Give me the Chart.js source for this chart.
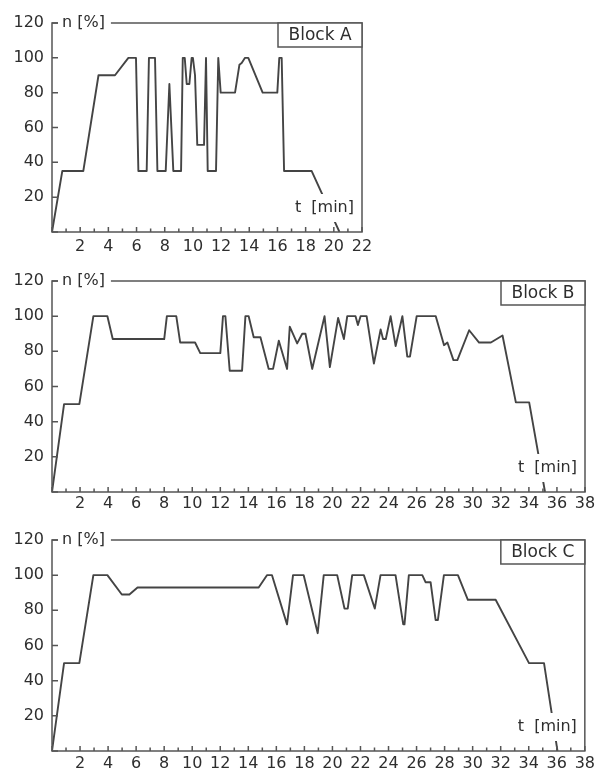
<!DOCTYPE html>
<html><head><meta charset="utf-8">
<script src="https://cdn.jsdelivr.net/npm/chart.js@4/dist/chart.umd.min.js"></script>
<style>
html,body{margin:0;padding:0;background:#fff;width:598px;height:773px;overflow:hidden}
canvas{position:absolute;left:0}
</style>
</head><body>
<canvas id="cA" width="598" height="258" style="top:0px"></canvas>
<canvas id="cB" width="598" height="256" style="top:258px"></canvas>
<canvas id="cC" width="598" height="256" style="top:517px"></canvas>
<script>
// ---- data (t in min, n in %) ----
const blockATime  = [0,0.73,2.22,3.3,4.47,5.42,5.96,6.13,6.72,6.88,7.31,7.48,8.07,8.33,8.61,9.16,9.28,9.42,9.56,9.75,9.91,10.0,10.15,10.31,10.79,10.93,11.05,11.64,11.8,11.97,12.99,13.3,13.46,13.7,13.93,14.95,15.99,16.13,16.3,16.47,18.43,20.4];
const blockAValue = [0,35,35,90,90,100,100,35,35,100,100,35,35,85,35,35,100,100,85,85,100,100,90,50,50,100,35,35,100,80,80,96,97,100,100,80,80,100,100,35,35,0];

const blockBTime  = [0,0.86,1.95,2.95,3.95,4.33,8.0,8.19,8.86,9.14,10.2,10.57,12.0,12.19,12.36,12.67,13.55,13.79,14.02,14.38,14.86,15.45,15.76,16.17,16.76,16.95,17.48,17.84,18.07,18.55,19.43,19.81,20.4,20.81,21.05,21.64,21.81,22.0,22.43,22.95,23.43,23.6,23.8,24.14,24.5,24.98,25.33,25.52,26.0,27.36,27.95,28.19,28.62,28.9,29.74,30.45,31.29,32.12,33.07,34.02,35.15];
const blockBValue = [0,50,50,100,100,87,87,100,100,85,85,79,79,100,100,69,69,100,100,88,88,70,70,86,70,94,84.5,90,90,70,100,71,99,87,100,100,95,100,100,73,92.5,87,87,100,83,100,77,77,100,100,83.5,85,75,75,92,85,85,89,51,51,0];

const blockCTime  = [0,0.86,1.95,2.95,3.95,4.98,5.52,6.1,14.74,15.33,15.69,16.76,17.19,17.95,18.95,19.38,20.34,20.86,21.09,21.41,22.24,23.02,23.43,24.5,25.05,25.14,25.45,26.41,26.64,27.0,27.36,27.52,27.95,28.95,29.66,31.64,34.02,35.09,36.05];
const blockCValue = [0,50,50,100,100,89,89,93,93,100,100,72,100,100,67,100,100,81,81,100,100,81,100,100,72,72,100,100,96,96,74.5,74.5,100,100,86,86,50,50,0];

const yTickLabels  = ['20','40','60','80','100','120'];
const xTickLabelsA = ['2','4','6','8','10','12','14','16','18','20','22'];
const xTickLabelsBC = ['2','4','6','8','10','12','14','16','18','20','22','24','26','28','30','32','34','36','38'];
const yTitle = 'n [%]';
const xTitle = 't  [min]';
const blockTitles = ['Block A','Block B','Block C'];

const FONT = '"DejaVu Sans", sans-serif';
const TEXT = '#2e2e2e';
const FRAME = '#555';

const framePlugin = {
  id: 'frame',
  afterDatasetsDraw(chart, args, opts) {
    const ctx = chart.ctx;
    const {left, right, top, bottom} = chart.chartArea;
    const xs = chart.scales.x, ys = chart.scales.y;
    ctx.save();
    ctx.strokeStyle = FRAME; ctx.lineWidth = 1.5;
    ctx.strokeRect(left, top, right - left, bottom - top);
    ctx.beginPath();
    xs.ticks.forEach(t => {
      const px = xs.getPixelForValue(t.value);
      const len = (t.value % 2 === 0) ? 5 : 3.5;
      ctx.moveTo(px, bottom); ctx.lineTo(px, bottom - len);
    });
    ys.ticks.forEach(t => {
      const py = ys.getPixelForValue(t.value);
      const len = (t.value % 20 === 0) ? 6 : 4;
      ctx.moveTo(left, py); ctx.lineTo(left + len, py);
    });
    ctx.stroke();
    // y title on the top border
    ctx.font = '16px ' + FONT;
    ctx.textBaseline = 'middle';
    let w = ctx.measureText(yTitle).width;
    ctx.fillStyle = '#fff';
    ctx.fillRect(left + 6, top - 10, w + 10, 20);
    ctx.fillStyle = TEXT; ctx.textAlign = 'left';
    ctx.fillText(yTitle, left + 10, top);
    // x title inside bottom right
    w = ctx.measureText(xTitle).width;
    ctx.fillStyle = '#fff';
    ctx.fillRect(right - 8 - w - 3, bottom - 24 - 14, w + 6, 28);
    ctx.fillStyle = TEXT; ctx.textAlign = 'right';
    ctx.fillText(xTitle, right - 8, bottom - 24);
    // block box
    ctx.font = '17px ' + FONT;
    const bw = 84, bh = 24;
    ctx.fillStyle = '#fff';
    ctx.fillRect(right - bw, top, bw, bh);
    ctx.strokeRect(right - bw, top, bw, bh);
    ctx.fillStyle = TEXT; ctx.textAlign = 'center';
    ctx.fillText(opts.title, right - bw / 2, top + bh / 2 + 1);
    ctx.restore();
  }
};

function makeChart(id, times, values, xMax, xLabels, title, padRight, xPad, xHeight) {
  const pts = times.map((t, i) => ({x: t, y: values[i]}));
  return new Chart(document.getElementById(id), {
    type: 'scatter',
    data: {datasets: [{data: pts, showLine: true, borderColor: '#444', borderWidth: 1.9,
      pointRadius: 0, fill: false, tension: 0, borderJoinStyle: 'round'}]},
    options: {
      responsive: false, animation: false, events: [],
      layout: {padding: {top: 23, right: padRight, left: 0, bottom: 0}},
      plugins: {legend: {display: false}, tooltip: {enabled: false}, frame: {title: title}},
      scales: {
        x: {type: 'linear', min: 0, max: xMax,
          grid: {display: false, drawTicks: false}, border: {display: false},
          ticks: {stepSize: 1, autoSkip: false, maxRotation: 0, minRotation: 0, padding: xPad,
            color: TEXT, font: {family: FONT, size: 16},
            callback: v => (v > 0 && v % 2 === 0) ? (xLabels[v / 2 - 1] || '') : ''},
          afterFit: s => { s.height = xHeight; }
        },
        y: {min: 0, max: 120,
          grid: {display: false, drawTicks: false}, border: {display: false},
          ticks: {stepSize: 10, padding: 8, color: TEXT, font: {family: FONT, size: 16},
            callback: v => (v > 0 && v % 20 === 0) ? yTickLabels[v / 20 - 1] : ''},
          afterFit: s => { s.width = 52; }
        }
      }
    },
    plugins: [framePlugin]
  });
}

makeChart('cA', blockATime, blockAValue, 22, xTickLabelsA, blockTitles[0], 236, 5, 26);
makeChart('cB', blockBTime, blockBValue, 38, xTickLabelsBC, blockTitles[1], 13, 2, 22);
makeChart('cC', blockCTime, blockCValue, 38, xTickLabelsBC, blockTitles[2], 13, 3, 22);
</script>
</body></html>
